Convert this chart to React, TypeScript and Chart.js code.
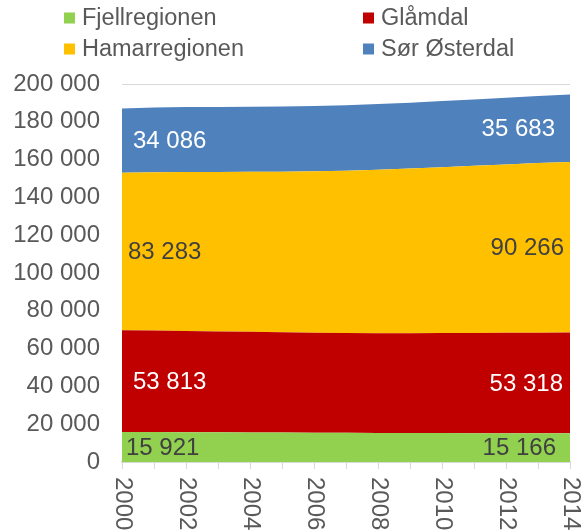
import React, { useEffect, useRef } from "react";
import { Chart, registerables } from "chart.js";

Chart.register(...registerables);

const years = ["2000","2001","2002","2003","2004","2005","2006","2007","2008","2009","2010","2011","2012","2013","2014"];
const fjellregionen = [15921, 15850, 15790, 15720, 15650, 15580, 15500, 15440, 15380, 15330, 15290, 15250, 15220, 15190, 15166];
const glamdal = [53813, 53700, 53500, 53350, 53200, 53050, 52900, 52800, 52800, 52850, 52950, 53050, 53150, 53250, 53318];
const hamarregionen = [83283, 83700, 84100, 84400, 84700, 85000, 85400, 85900, 86500, 87100, 87700, 88400, 89000, 89700, 90266];
const sorOsterdal = [34086, 34350, 34400, 34400, 34450, 34450, 34500, 34600, 34750, 34850, 35000, 35150, 35350, 35500, 35683];
const seriesNames = ["Fjellregionen", "Glåmdal", "Hamarregionen", "Sør Østerdal"];
const yMin = 0;
const yMax = 200000;
const yStep = 20000;

const COLORS = ["#92D050", "#C00000", "#FFC000", "#4F81BD"];
const LABEL_COLORS = ["#404040", "#FFFFFF", "#404040", "#FFFFFF"];
const LEFT_OFFSETS = [4, 11, 6, 11];
const RIGHT_OFFSETS = [14, 7, 6, 15];
const FONT = "'Liberation Sans', Arial, sans-serif";
const TEXT = "#595959";
const GRID = "#D9D9D9";
const FS = 24;

const fmt = (v: number) => String(Math.round(v)).replace(/\B(?=(\d{3})+(?!\d))/g, " ");

const legendPlugin = {
  id: "customLegend",
  afterDraw(chart: any) {
    const ctx = chart.ctx;
    const cols = [64, 363];
    const rows = [18, 49];
    ctx.save();
    ctx.font = `23.5px ${FONT}`;
    ctx.textBaseline = "middle";
    ctx.textAlign = "left";
    chart.data.datasets.forEach((ds: any, i: number) => {
      const x = cols[i % 2];
      const y = rows[Math.floor(i / 2)];
      ctx.fillStyle = ds.backgroundColor;
      ctx.fillRect(x, y - 5.5, 11, 11);
      ctx.fillStyle = TEXT;
      ctx.fillText(ds.label, x + 18, y + 1);
    });
    ctx.restore();
  },
};

const xLabelPlugin = {
  id: "xLabels",
  afterDraw(chart: any) {
    const ctx = chart.ctx;
    const xs = chart.scales.x;
    ctx.save();
    ctx.font = `${FS}px ${FONT}`;
    ctx.fillStyle = TEXT;
    ctx.textAlign = "left";
    ctx.textBaseline = "middle";
    chart.data.labels.forEach((lab: string, i: number) => {
      if (i % 2 !== 0) return;
      const x = xs.getPixelForValue(i);
      ctx.save();
      ctx.translate(x + 1, chart.chartArea.bottom + 15);
      ctx.rotate(Math.PI / 2);
      ctx.fillText(lab, 0, 0);
      ctx.restore();
    });
    ctx.restore();
  },
};

const dataLabelPlugin = {
  id: "dataLabels",
  afterDatasetsDraw(chart: any) {
    const ctx = chart.ctx;
    const ys = chart.scales.y;
    ctx.save();
    ctx.font = `${FS}px ${FONT}`;
    ctx.textBaseline = "middle";
    chart.data.datasets.forEach((ds: any, i: number) => {
      const meta = chart.getDatasetMeta(i);
      const last = ds.data.length - 1;
      [0, last].forEach((j) => {
        const top = meta.data[j].y;
        const bottom = i === 0 ? ys.getPixelForValue(0) : chart.getDatasetMeta(i - 1).data[j].y;
        const y = (top + bottom) / 2 + 1;
        ctx.fillStyle = LABEL_COLORS[i];
        if (j === 0) {
          ctx.textAlign = "left";
          ctx.fillText(fmt(ds.data[j]), meta.data[j].x + LEFT_OFFSETS[i], y);
        } else {
          ctx.textAlign = "right";
          ctx.fillText(fmt(ds.data[j]), meta.data[j].x - RIGHT_OFFSETS[i], y);
        }
      });
    });
    ctx.restore();
  },
};

export default function App() {
  const ref = useRef<HTMLCanvasElement>(null);
  useEffect(() => {
    if (!ref.current) return;
    const series = [fjellregionen, glamdal, hamarregionen, sorOsterdal];
    const chart = new Chart(ref.current, {
      type: "line",
      data: {
        labels: years,
        datasets: series.map((d, i) => ({
          label: seriesNames[i],
          data: d,
          backgroundColor: COLORS[i],
          borderColor: COLORS[i],
          borderWidth: 0,
          pointRadius: 0,
          fill: i === 0 ? "origin" : "-1",
          tension: 0,
        })),
      },
      options: {
        animation: false,
        responsive: true,
        maintainAspectRatio: false,
        layout: { padding: { top: 84, right: 18, bottom: 0, left: 0 } },
        plugins: { legend: { display: false }, tooltip: { enabled: false } },
        scales: {
          x: {
            offset: false,
            grid: { drawOnChartArea: false, drawTicks: true, tickLength: 7, color: GRID, lineWidth: 1 },
            border: { display: true, color: GRID, width: 2 },
            ticks: { display: false, autoSkip: false },
            afterFit(scale: any) {
              scale.height = 69;
            },
          },
          y: {
            stacked: true,
            min: yMin,
            max: yMax,
            grid: { drawTicks: false, color: GRID, lineWidth: 1 },
            border: { display: false },
            ticks: {
              stepSize: yStep,
              padding: 22,
              color: TEXT,
              font: { family: FONT, size: FS },
              callback: (v: any) => fmt(Number(v)),
            },
            afterFit(scale: any) {
              scale.width = 122;
            },
          },
        },
      },
      plugins: [legendPlugin, xLabelPlugin, dataLabelPlugin],
    });
    return () => chart.destroy();
  }, []);
  return (
    <div style={{ position: "fixed", left: 0, top: 0, width: 588, height: 531, background: "#fff" }}>
      <canvas ref={ref} />
    </div>
  );
}
